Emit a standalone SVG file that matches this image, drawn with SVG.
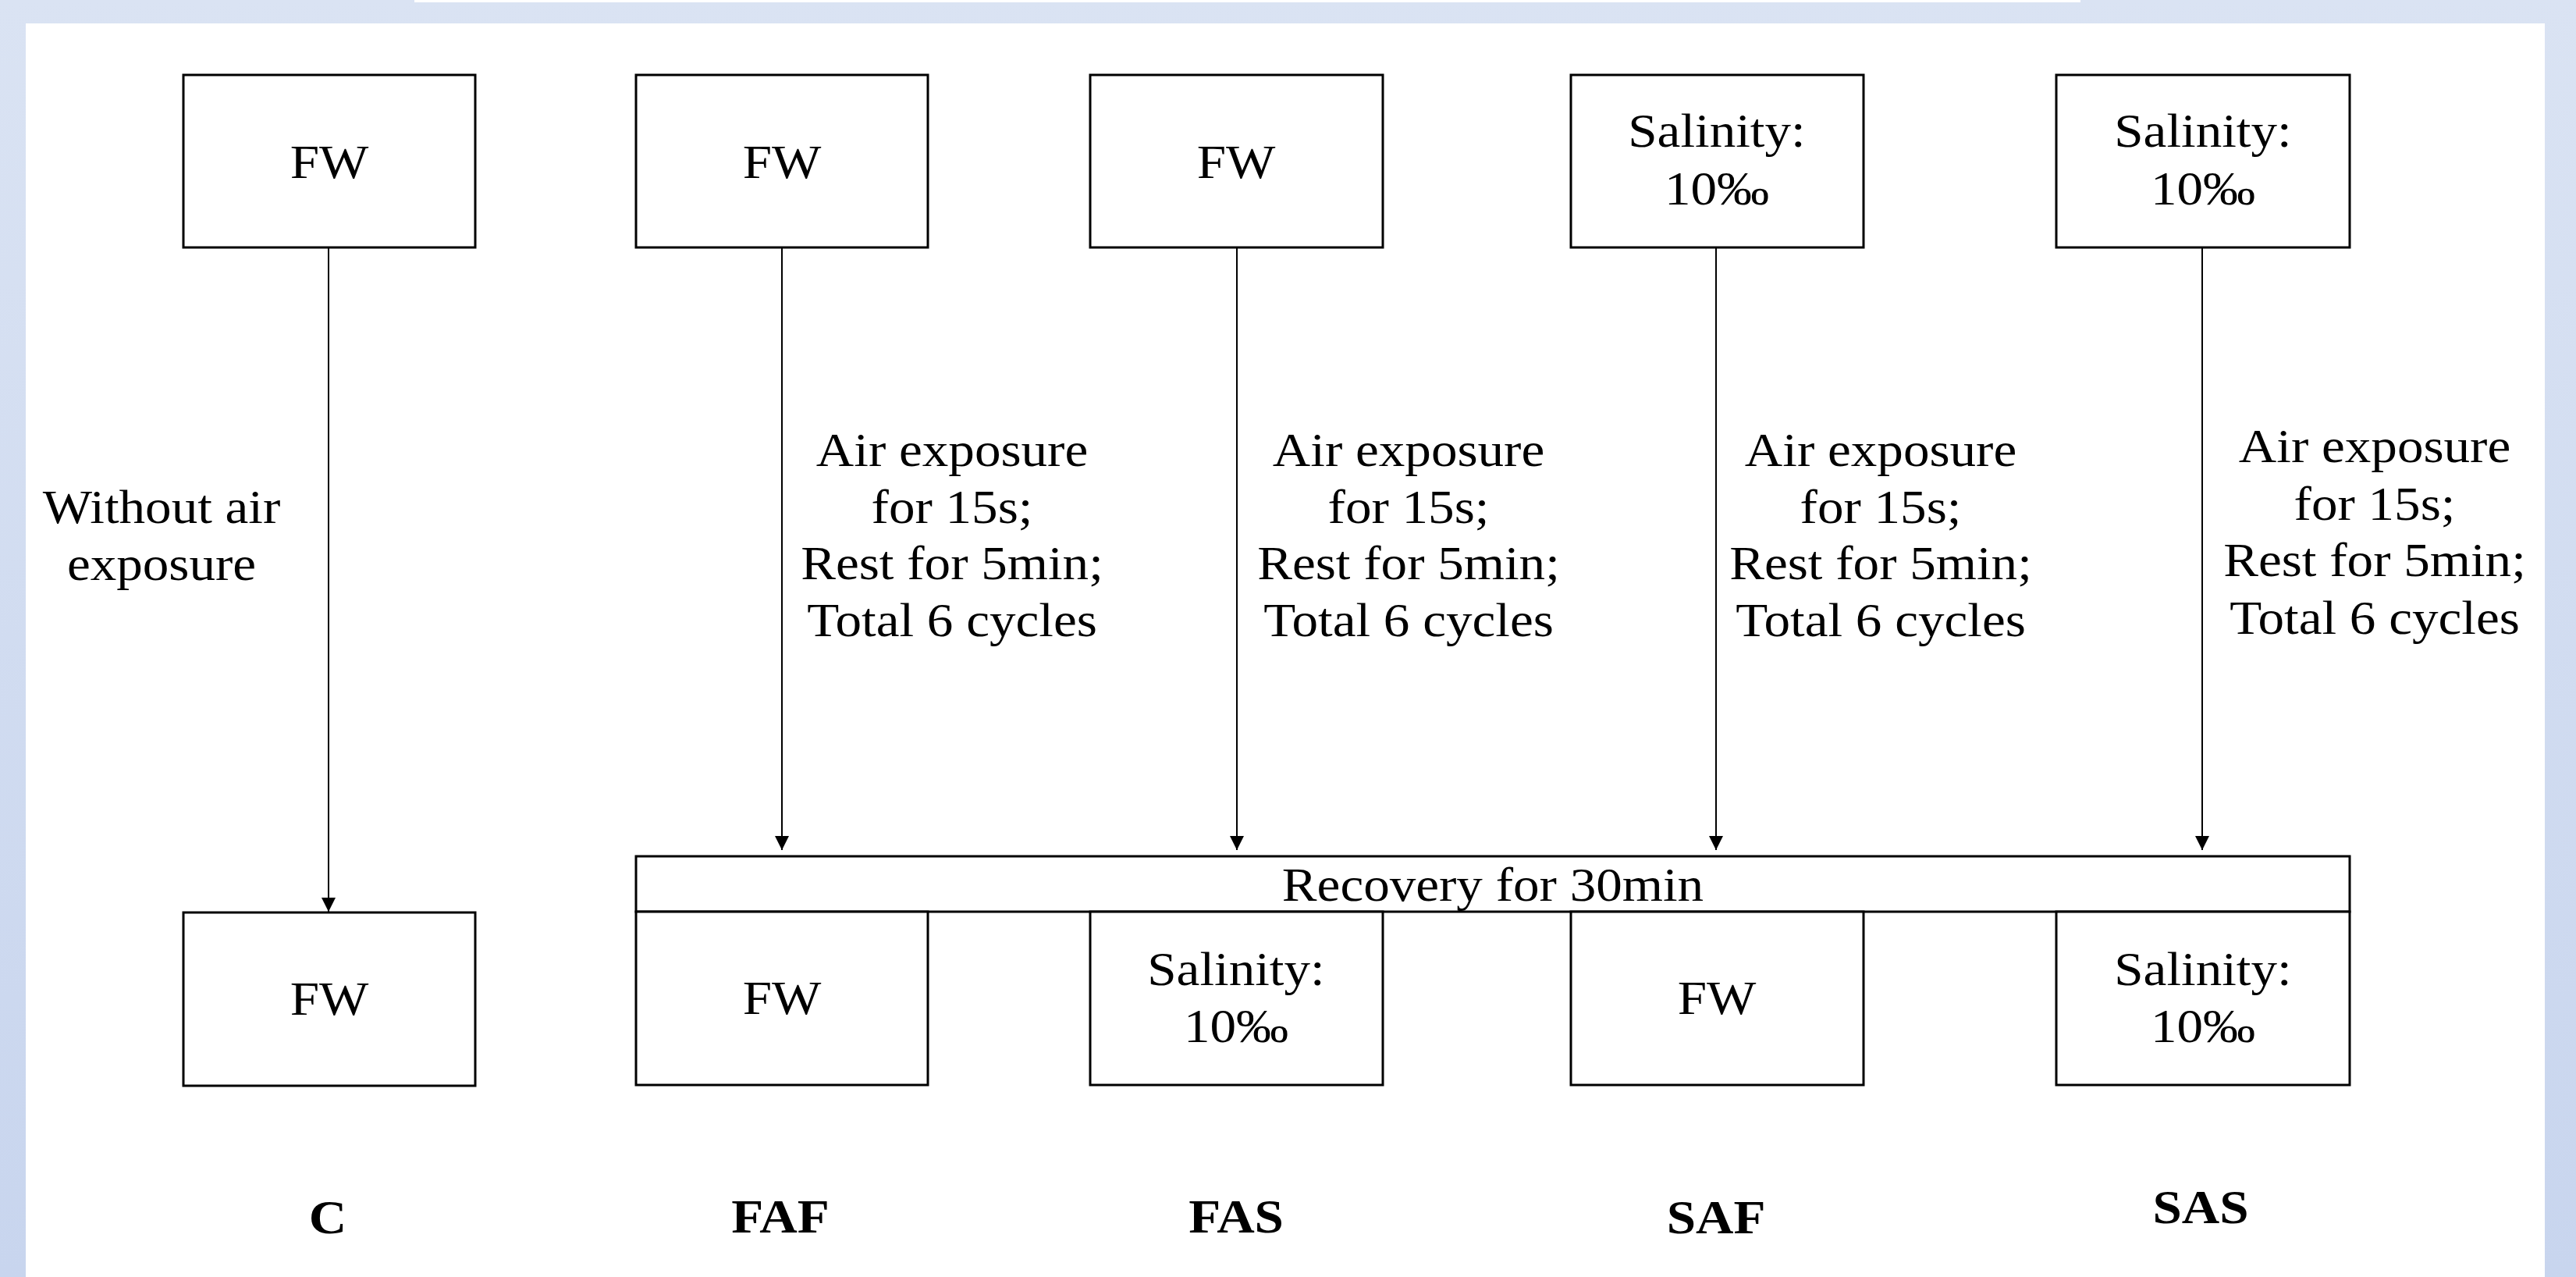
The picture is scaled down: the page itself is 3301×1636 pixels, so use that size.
<svg xmlns="http://www.w3.org/2000/svg" width="3301" height="1636" viewBox="0 0 3301 1636">
  <defs>
    <linearGradient id="bg" x1="0" y1="0" x2="0" y2="1">
      <stop offset="0" stop-color="#DAE3F3"/>
      <stop offset="1" stop-color="#C8D5EE"/>
    </linearGradient>
    <marker id="arrow" viewBox="0 0 18 20" refX="18" refY="10" markerWidth="18" markerHeight="20" markerUnits="userSpaceOnUse" orient="auto">
      <path d="M0,1 L18,10 L0,19 Z" fill="#000"/>
    </marker>
    <style>
      .box { fill: #fff; stroke: #000; stroke-width: 3; }
      .conn { stroke: #000; stroke-width: 2; fill: none; marker-end: url(#arrow); }
      .t { font-family: "Liberation Serif", "Times New Roman", serif; font-size: 61px; fill: #000; text-anchor: middle; }
      .b { font-weight: bold; }
    </style>
  </defs>

  <!-- background -->
  <rect x="0" y="0" width="3301" height="1636" fill="url(#bg)"/>
  <rect x="33" y="30" width="3228" height="1606" fill="#fff"/>
  <rect x="531" y="0" width="2135" height="3" fill="#fff"/>

  <!-- top nodes -->
  <g id="top-C">
    <rect class="box" x="235" y="96" width="374" height="221"/>
    <text class="t" transform="translate(422 228) scale(1.1 1)">FW</text>
  </g>
  <g id="top-FAF">
    <rect class="box" x="815" y="96" width="374" height="221"/>
    <text class="t" transform="translate(1002 228) scale(1.1 1)">FW</text>
  </g>
  <g id="top-FAS">
    <rect class="box" x="1397" y="96" width="375" height="221"/>
    <text class="t" transform="translate(1584 228) scale(1.1 1)">FW</text>
  </g>
  <g id="top-SAF">
    <rect class="box" x="2013" y="96" width="375" height="221"/>
    <text class="t" transform="translate(2200 188) scale(1.1 1)"><tspan x="0" y="0">Salinity:</tspan><tspan x="0" y="74">10‰</tspan></text>
  </g>
  <g id="top-SAS">
    <rect class="box" x="2635" y="96" width="376" height="221"/>
    <text class="t" transform="translate(2823 188) scale(1.1 1)"><tspan x="0" y="0">Salinity:</tspan><tspan x="0" y="74">10‰</tspan></text>
  </g>

  <!-- recovery bar -->
  <g id="recovery">
    <rect class="box" x="815" y="1097" width="2196" height="71"/>
    <text class="t" transform="translate(1913 1154) scale(1.1 1)">Recovery for 30min</text>
  </g>

  <!-- bottom nodes -->
  <g id="bottom-C">
    <rect class="box" x="235" y="1169" width="374" height="222"/>
    <text class="t" transform="translate(422 1300) scale(1.1 1)">FW</text>
  </g>
  <g id="bottom-FAF">
    <rect class="box" x="815" y="1168" width="374" height="222"/>
    <text class="t" transform="translate(1002 1299) scale(1.1 1)">FW</text>
  </g>
  <g id="bottom-FAS">
    <rect class="box" x="1397" y="1168" width="375" height="222"/>
    <text class="t" transform="translate(1584 1262) scale(1.1 1)"><tspan x="0" y="0">Salinity:</tspan><tspan x="0" y="73">10‰</tspan></text>
  </g>
  <g id="bottom-SAF">
    <rect class="box" x="2013" y="1168" width="375" height="222"/>
    <text class="t" transform="translate(2200 1299) scale(1.1 1)">FW</text>
  </g>
  <g id="bottom-SAS">
    <rect class="box" x="2635" y="1168" width="376" height="222"/>
    <text class="t" transform="translate(2823 1262) scale(1.1 1)"><tspan x="0" y="0">Salinity:</tspan><tspan x="0" y="73">10‰</tspan></text>
  </g>

  <!-- group labels -->
  <g id="labels">
    <text class="t b" transform="translate(420 1580) scale(1.1 1)">C</text>
    <text class="t b" transform="translate(1000 1579) scale(1.1 1)">FAF</text>
    <text class="t b" transform="translate(1584 1579) scale(1.1 1)">FAS</text>
    <text class="t b" transform="translate(2199 1580) scale(1.1 1)">SAF</text>
    <text class="t b" transform="translate(2820 1567) scale(1.1 1)">SAS</text>
  </g>

  <!-- connectors -->
  <g id="connectors">
    <line class="conn" x1="421" y1="317" x2="421" y2="1168"/>
    <line class="conn" x1="1002" y1="317" x2="1002" y2="1089"/>
    <line class="conn" x1="1585" y1="317" x2="1585" y2="1089"/>
    <line class="conn" x1="2199" y1="317" x2="2199" y2="1089"/>
    <line class="conn" x1="2822" y1="317" x2="2822" y2="1089"/>
  </g>

  <!-- connector labels -->
  <g id="connector-labels">
    <text class="t" transform="translate(207 670) scale(1.1 1)"><tspan x="0" y="0">Without air</tspan><tspan x="0" y="73">exposure</tspan></text>
    <text class="t" transform="translate(1220 597) scale(1.1 1)"><tspan x="0" y="0">Air exposure</tspan><tspan x="0" y="73">for 15s;</tspan><tspan x="0" y="145">Rest for 5min;</tspan><tspan x="0" y="218">Total 6 cycles</tspan></text>
    <text class="t" transform="translate(1805 597) scale(1.1 1)"><tspan x="0" y="0">Air exposure</tspan><tspan x="0" y="73">for 15s;</tspan><tspan x="0" y="145">Rest for 5min;</tspan><tspan x="0" y="218">Total 6 cycles</tspan></text>
    <text class="t" transform="translate(2410 597) scale(1.1 1)"><tspan x="0" y="0">Air exposure</tspan><tspan x="0" y="73">for 15s;</tspan><tspan x="0" y="145">Rest for 5min;</tspan><tspan x="0" y="218">Total 6 cycles</tspan></text>
    <text class="t" transform="translate(3043 592) scale(1.1 1)"><tspan x="0" y="0">Air exposure</tspan><tspan x="0" y="74">for 15s;</tspan><tspan x="0" y="146">Rest for 5min;</tspan><tspan x="0" y="220">Total 6 cycles</tspan></text>
  </g>
</svg>
